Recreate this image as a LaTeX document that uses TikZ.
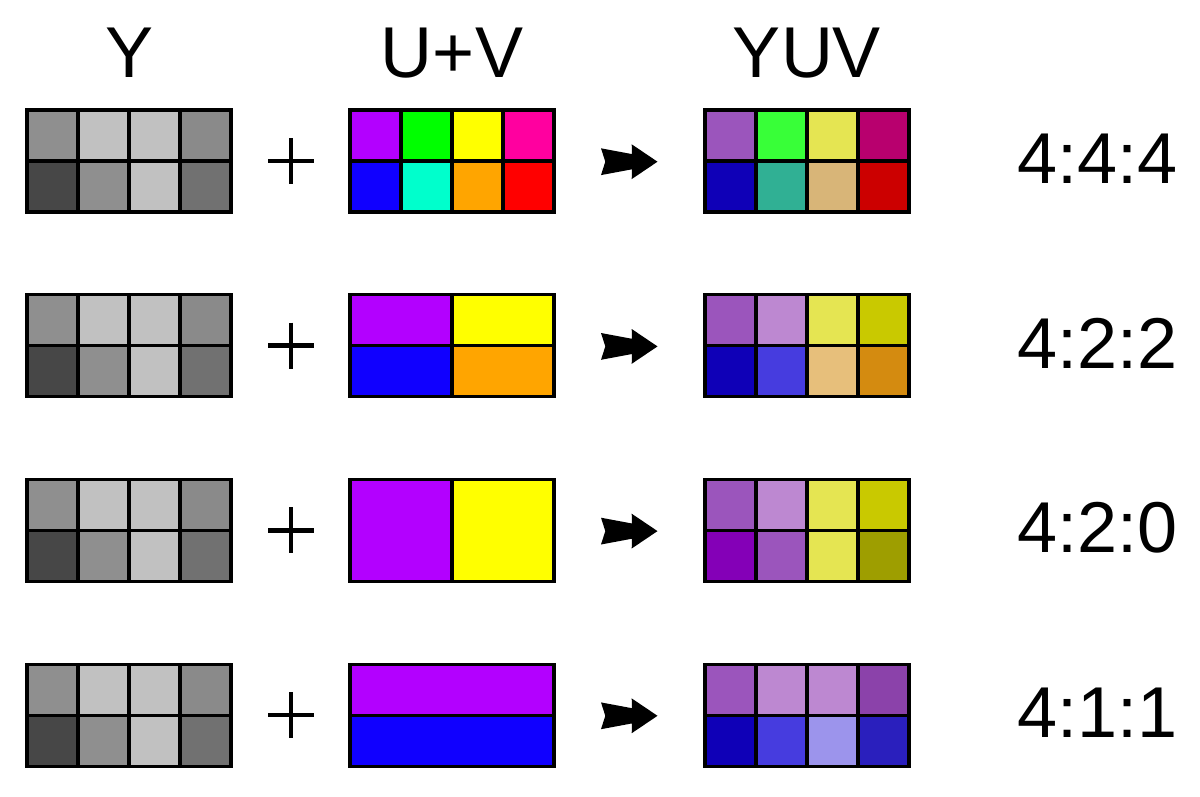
\documentclass[tikz,border=0pt]{standalone}
\usepackage{fontspec}
\setmainfont{Liberation Sans}
\begin{document}
\begin{tikzpicture}[x=1pt,y=-1pt,
  gridline/.style={draw=black,line width=3.2pt,line join=miter},
  bigtext/.style={font=\fontsize{72}{80}\selectfont,inner sep=0pt,anchor=base},
  plusline/.style={line width=4.6pt},
  arrowshape/.style={fill=black}]
\useasboundingbox (0,0) rectangle (1200,796);
\fill[white] (0,0) rectangle (1200,796);
% helpers
\newcommand\gcell[5]{\definecolor{tmpc}{HTML}{#5}\fill[tmpc] (#1,#2) rectangle ++(#3,#4);}
\newcommand\eightcells[3]{%
  \foreach \c [count=\i from 0] in {#3} {%
    \pgfmathsetmacro\cx{#1+51*mod(\i,4)}%
    \pgfmathsetmacro\cy{#2+51*int(\i/4)}%
    \gcell{\cx}{\cy}{51}{51}{\c}%
  }}
\newcommand\fullgrid[2]{%
  \draw[gridline] (#1,#2) rectangle ++(204,102);
  \draw[gridline] (#1,#2+51) -- ++(204,0);
  \foreach \k in {1,2,3} {\draw[gridline] (#1+51*\k,#2) -- ++(0,102);}}
\newcommand\yuvarrow[1]{%
  \fill[arrowshape] (601,#1-13.4) -- (632,#1-7.6) -- (631.7,#1-17.4) -- (657.5,#1)
    -- (631.7,#1+17.4) -- (632,#1+7.6) -- (601,#1+13.4) -- (605.3,#1) -- cycle;}
\newcommand\plussign[1]{%
  \draw[plusline] (268,#1) -- (314,#1);
  \draw[plusline] (291,#1-23) -- (291,#1+23);}

% headers
\node[bigtext] (hY) at (129.5,77) {Y};
\node[bigtext] (hUV) at (452,77) {U+V};
\node[bigtext] (hYUV) at (807,77) {YUV};

% ---------- row 1: 4:4:4
\def\t{110}
\eightcells{27}{\t}{8F8F8F,C1C1C1,C1C1C1,8A8A8A,474747,8F8F8F,C1C1C1,717171}
\fullgrid{27}{\t}
\eightcells{350}{\t}{B300FF,00FF00,FFFF00,FF009F,1000FF,00FFCC,FFA500,FF0000}
\fullgrid{350}{\t}
\eightcells{705}{\t}{9B55BC,38FF38,E5E552,B8006E,0F00B7,30B094,D8B578,CC0000}
\fullgrid{705}{\t}
\plussign{161}
\yuvarrow{161.7}
\node[bigtext] (r444) at (1097.5,183.3) {4:4:4};

% ---------- row 2: 4:2:2
\def\t{294.7}
\eightcells{27}{\t}{8F8F8F,C1C1C1,C1C1C1,8A8A8A,474747,8F8F8F,C1C1C1,717171}
\fullgrid{27}{\t}
\gcell{350}{\t}{102}{51}{B300FF}
\gcell{452}{\t}{102}{51}{FFFF00}
\gcell{350}{\t+51}{102}{51}{1000FF}
\gcell{452}{\t+51}{102}{51}{FFA500}
\draw[gridline] (350,\t) rectangle ++(204,102);
\draw[gridline] (350,\t+51) -- ++(204,0);
\draw[gridline] (452,\t) -- ++(0,102);
\eightcells{705}{\t}{9B55BC,BD88D1,E5E552,C9C900,0F00B7,463CDF,E7BF7B,D48B10}
\fullgrid{705}{\t}
\plussign{345.7}
\yuvarrow{346.4}
\node[bigtext] (r422) at (1097.5,368) {4:2:2};

% ---------- row 3: 4:2:0
\def\t{479.4}
\eightcells{27}{\t}{8F8F8F,C1C1C1,C1C1C1,8A8A8A,474747,8F8F8F,C1C1C1,717171}
\fullgrid{27}{\t}
\gcell{350}{\t}{102}{102}{B300FF}
\gcell{452}{\t}{102}{102}{FFFF00}
\draw[gridline] (350,\t) rectangle ++(204,102);
\draw[gridline] (452,\t) -- ++(0,102);
\eightcells{705}{\t}{9B55BC,BD88D1,E5E552,C9C900,8400B7,9B55BC,E5E552,9E9E00}
\fullgrid{705}{\t}
\plussign{530.4}
\yuvarrow{531.1}
\node[bigtext] (r420) at (1097.5,552.7) {4:2:0};

% ---------- row 4: 4:1:1
\def\t{664.1}
\eightcells{27}{\t}{8F8F8F,C1C1C1,C1C1C1,8A8A8A,474747,8F8F8F,C1C1C1,717171}
\fullgrid{27}{\t}
\gcell{350}{\t}{204}{51}{B300FF}
\gcell{350}{\t+51}{204}{51}{1000FF}
\draw[gridline] (350,\t) rectangle ++(204,102);
\draw[gridline] (350,\t+51) -- ++(204,0);
\eightcells{705}{\t}{9B55BC,BD88D1,BD88D1,8B42AA,0F00B7,463CDF,9C94EC,2A1FBD}
\fullgrid{705}{\t}
\plussign{715.1}
\yuvarrow{715.8}
\node[bigtext] (r411) at (1097.5,737.4) {4:1:1};
\end{tikzpicture}
\end{document}
